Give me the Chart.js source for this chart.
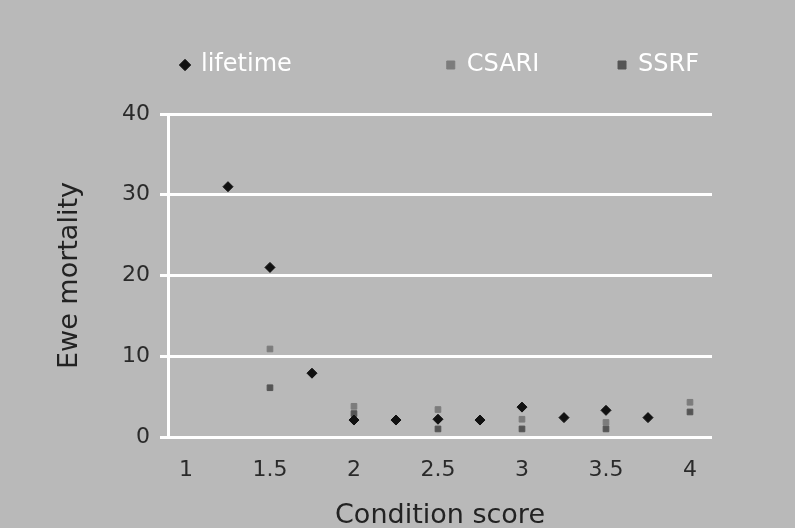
<!DOCTYPE html>
<html lang="en">
<head>
    <meta charset="UTF-8">
    <title>Ewe mortality by condition score</title>
    <script src="https://cdn.jsdelivr.net/npm/chart.js@4.4.0/dist/chart.umd.min.js"></script>
    <style>
        html, body { margin: 0; padding: 0; background: #b9b9b9; }
        .wrap { width: 795px; height: 528px; }
    </style>
</head>
<body>
    <div class="wrap">
        <canvas id="mortality" width="795" height="528"></canvas>
    </div>

    <script>
        // values
        const xTicks = [1, 1.5, 2, 2.5, 3, 3.5, 4];
        const yTicks = [0, 10, 20, 30, 40];

        const lifetimeX = [1.25, 1.5, 1.75, 2, 2.25, 2.5, 2.75, 3, 3.25, 3.5, 3.75];
        const lifetimeY = [31, 21, 7.9, 2.1, 2.1, 2.2, 2.1, 3.7, 2.4, 3.3, 2.4];

        const csariX = [1.5, 2, 2.5, 3, 3.5, 4];
        const csariY = [10.9, 3.8, 3.4, 2.2, 1.8, 4.3];

        const ssrfX = [1.5, 2, 2.5, 3, 3.5, 4];
        const ssrfY = [6.1, 2.9, 1.0, 1.0, 1.0, 3.1];

        function toPoints(xs, ys) {
            return xs.map((x, i) => ({ x: x, y: ys[i] }));
        }

        const textFont = 'DejaVu Sans';

        const bgPlugin = {
            id: 'bg',
            beforeDraw(chart) {
                const ctx = chart.ctx;
                ctx.save();
                ctx.fillStyle = '#b9b9b9';
                ctx.fillRect(0, 0, chart.width, chart.height);
                ctx.restore();
            }
        };

        new Chart(document.getElementById('mortality'), {
            type: 'scatter',
            data: {
                datasets: [
                    {
                        label: 'lifetime',
                        data: toPoints(lifetimeX, lifetimeY),
                        pointStyle: 'rectRot',
                        pointRadius: 5,
                        backgroundColor: '#111111',
                        borderColor: '#111111'
                    },
                    {
                        label: 'CSARI',
                        data: toPoints(csariX, csariY),
                        pointStyle: 'rect',
                        pointRadius: 4,
                        backgroundColor: '#7c7c7c',
                        borderColor: '#7c7c7c'
                    },
                    {
                        label: 'SSRF',
                        data: toPoints(ssrfX, ssrfY),
                        pointStyle: 'rect',
                        pointRadius: 4,
                        backgroundColor: '#555555',
                        borderColor: '#555555'
                    }
                ]
            },
            options: {
                responsive: false,
                animation: false,
                layout: { padding: { top: 43, right: 83, bottom: 0, left: 0 } },
                plugins: {
                    legend: {
                        position: 'top',
                        fullSize: false,
                        weight: 1000,
                        labels: {
                            usePointStyle: true,
                            boxWidth: 8,
                            boxHeight: 8,
                            padding: 10,
                            color: '#ffffff',
                            font: { family: textFont, size: 24 },
                            // entries are spread wider in the original, pad with spaces
                            generateLabels: chart => {
                                const items = Chart.defaults.plugins.legend.labels.generateLabels(chart);
                                items[0].text += ' '.repeat(19);
                                items[1].text += ' '.repeat(9);
                                return items;
                            }
                        }
                    },
                    // empty title only used as spacing under the legend
                    title: {
                        display: true,
                        text: '',
                        weight: 500,
                        font: { size: 1, lineHeight: 1 },
                        padding: { top: 0, bottom: 26 }
                    },
                    tooltip: { enabled: false }
                },
                scales: {
                    x: {
                        type: 'linear',
                        min: 0.893,
                        max: 4.131,
                        afterBuildTicks: axis => { axis.ticks = xTicks.map(v => ({ value: v })); },
                        afterFit: axis => { axis.height = 91; },
                        grid: { display: false, drawTicks: false },
                        border: { display: false },
                        ticks: {
                            padding: 20,
                            color: '#2a2a2a',
                            font: { family: textFont, size: 22 },
                            callback: v => String(v)
                        },
                        title: {
                            display: true,
                            text: 'Condition score',
                            color: '#222222',
                            font: { family: textFont, size: 27 },
                            padding: { top: 0, bottom: -4 }
                        }
                    },
                    y: {
                        min: 0,
                        max: 40,
                        afterBuildTicks: axis => { axis.ticks = yTicks.map(v => ({ value: v })); },
                        afterFit: axis => { axis.width = 168; },
                        grid: {
                            color: '#ffffff',
                            lineWidth: 3,
                            drawTicks: true,
                            tickLength: 8,
                            tickColor: '#ffffff'
                        },
                        border: { display: true, color: '#ffffff', width: 3 },
                        ticks: {
                            padding: 10,
                            color: '#2a2a2a',
                            font: { family: textFont, size: 22 }
                        },
                        title: {
                            display: true,
                            text: 'Ewe mortality',
                            color: '#222222',
                            font: { family: textFont, size: 27 },
                            padding: { top: 54, bottom: 0 }
                        }
                    }
                }
            },
            plugins: [bgPlugin]
        });
    </script>
</body>
</html>
